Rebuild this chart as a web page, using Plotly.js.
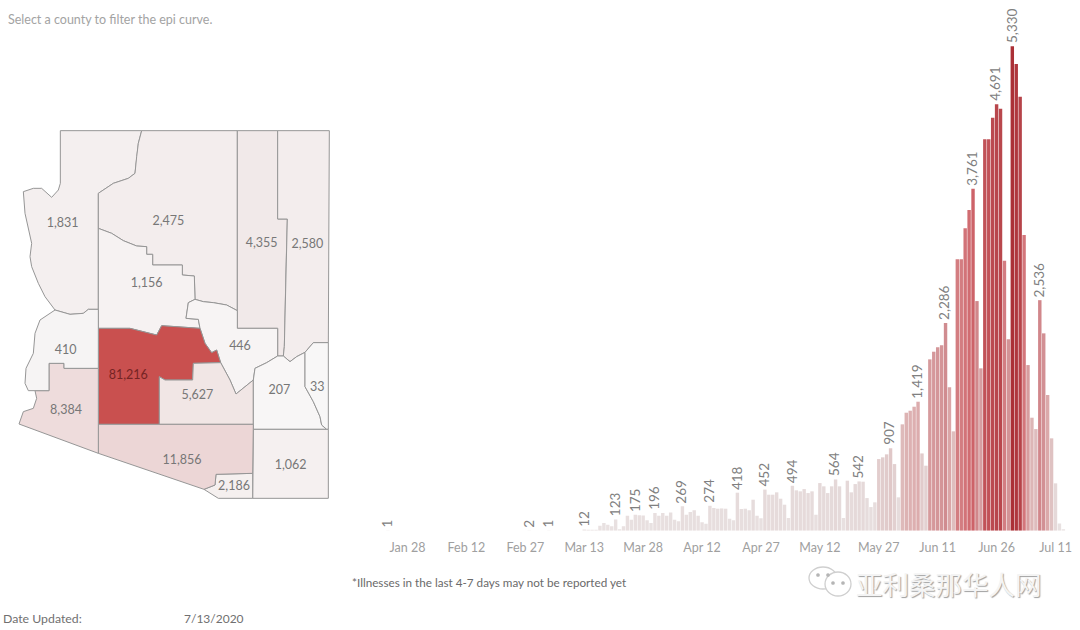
<!DOCTYPE html>
<html><head><meta charset="utf-8">
<script src="https://cdn.plot.ly/plotly-3.0.1.min.js"></script>
<style>html,body{margin:0;padding:0;background:#fff}#c{width:1080px;height:630px}</style>
</head><body><div id="c"></div>
<script>
// ---- epi curve data
const earlyDays = ['2020-01-23','2020-02-28','2020-03-04'];
const earlyCases = [1,2,1];
const seriesStart = '2020-03-13';
const dailyCases = [
 12,10,10,10,55,84,66,48,123,15,48,165,121,175,170,168,114,84,196,165,194,165,200,121,103,
 269,176,205,225,165,92,77,274,250,242,245,242,132,114,418,238,242,224,341,165,136,452,396,396,422,352,286,139,
 494,444,433,458,414,433,176,524,488,414,488,564,488,139,550,422,513,542,539,359,260,312,788,807,840,907,
 733,367,1170,1298,1320,1364,1419,850,715,1885,1969,2017,2039,2286,1577,1093,2985,2985,3326,3527,3761,2526,1786,
 4305,4305,4543,4691,4642,2970,2105,5330,5133,4774,3253,1822,1243,1118,2536,2171,1492,1016,521,80,15];
const labelledDays = ['2020-01-23','2020-02-28','2020-03-04','2020-03-13','2020-03-21','2020-03-26','2020-03-31','2020-04-07','2020-04-14','2020-04-21','2020-04-28','2020-05-05','2020-05-16','2020-05-22','2020-05-30','2020-06-06','2020-06-13','2020-06-20','2020-06-26','2020-06-30','2020-07-07'];
const tickDays = ['2020-01-28','2020-02-12','2020-02-27','2020-03-13','2020-03-28','2020-04-12','2020-04-27','2020-05-12','2020-05-27','2020-06-11','2020-06-26','2020-07-11'];
const tickNames = ['Jan 28','Feb 12','Feb 27','Mar 13','Mar 28','Apr 12','Apr 27','May 12','May 27','Jun 11','Jun 26','Jul 11'];

// ---- county map data (outlines, in map units)
const countyNames = ['Mohave','Coconino','Navajo','Apache','Yavapai','Gila','Maricopa','Pinal','Graham','Greenlee','Cochise','Santa Cruz','Pima','Yuma','La Paz'];
const countyCases = [1831,2475,4355,2580,1156,446,81216,5627,207,33,1062,2186,11856,8384,410];
const countyFill = ['#f4efef','#f3eded','#f1e9e9','#f3eded','#f6f2f2','#f7f4f4','#c9504f','#f1e6e5','#f8f6f6','#f8f7f7','#f5f0f0','#f5f0ef','#ecd6d6','#eedcdc','#f6f4f4'];
const countyLabelX = [188,505,785,922,440,720,385,592,838,952,872,702,546,198,197];
const countyLabelY = [312,307,372,374,492,680,769,827,814,804,1037,1102,1022,872,692];
const countyOutlines = [
 [[181,32],[425,32],[415,70],[410,110],[405,160],[385,175],[340,190],[295,220],[295,568],[265,568],[250,580],[210,583],[165,570],[135,530],[115,490],[95,440],[90,410],[95,370],[85,320],[75,280],[70,215],[100,205],[125,205],[155,232],[175,210],[181,190]],
 [[425,32],[712,32],[712,572],[680,555],[640,548],[610,545],[585,538],[583,468],[547,465],[547,435],[458,435],[458,403],[440,403],[440,380],[410,378],[370,362],[335,340],[295,325],[295,220],[340,190],[385,175],[405,160],[410,110],[415,70]],
 [[712,32],[833,32],[833,297],[862,297],[858,450],[853,680],[850,708],[833,708],[833,625],[712,625]],
 [[833,32],[988,32],[985,668],[940,668],[915,697],[890,710],[870,725],[850,708],[853,680],[858,450],[862,297],[833,297]],
 [[295,325],[335,340],[370,362],[410,378],[440,380],[440,403],[458,403],[458,435],[547,435],[547,465],[583,468],[585,538],[565,548],[558,595],[595,598],[600,625],[485,617],[470,645],[390,625],[295,625]],
 [[585,538],[610,545],[640,548],[680,555],[712,572],[712,625],[833,625],[833,708],[800,728],[765,745],[760,780],[708,822],[690,780],[662,728],[650,690],[635,698],[615,670],[600,625],[595,598],[558,595],[565,548]],
 [[295,625],[390,625],[470,645],[485,617],[600,625],[615,670],[635,698],[650,690],[662,728],[580,730],[578,780],[495,780],[478,770],[478,913],[295,913]],
 [[580,730],[662,728],[690,780],[708,822],[760,780],[760,913],[478,913],[478,770],[495,780],[578,780]],
 [[760,780],[765,745],[800,728],[833,708],[850,708],[870,725],[890,710],[915,697],[915,800],[940,845],[960,890],[965,915],[980,928],[760,928]],
 [[915,697],[940,668],[985,668],[985,928],[980,928],[965,915],[960,890],[940,845],[915,800]],
 [[760,928],[985,928],[985,1135],[758,1135]],
 [[648,1063],[758,1060],[758,1135],[655,1135],[612,1108],[645,1095]],
 [[295,913],[760,913],[758,1060],[648,1063],[645,1095],[612,1108],[295,1000]],
 [[147,730],[192,730],[192,745],[295,745],[295,1000],[57,912],[70,875],[100,865],[110,835],[105,812],[147,812]],
 [[165,570],[210,583],[250,580],[265,568],[295,568],[295,745],[192,745],[192,730],[147,730],[147,812],[85,812],[75,790],[78,745],[100,700],[105,640],[120,600]]
];

// ---- build
const F = 'Lato, "Open Sans", sans-serif';
const W = 1080, H = 630;
const dates = earlyDays.slice();
const start = Date.parse(seriesStart + 'T00:00:00Z');
dailyCases.forEach((_, i) => dates.push(new Date(start + i * 864e5).toISOString().slice(0, 10)));
const cases = earlyCases.concat(dailyCases);

const traces = [];
traces.push({
  type: 'bar', x: dates, y: cases,
  marker: {color: cases, cmin: 0, cmax: 5330, line: {width: 0},
    colorscale: [[0, '#e9e2e2'], [0.1, '#e5d9d9'], [0.17, '#e0c8c8'], [0.27, '#dcabac'], [0.43, '#d08c90'], [0.6, '#d4787d'], [0.72, '#cc6066'], [0.88, '#b8464c'], [1, '#ab3036']]},
  hoverinfo: 'skip', showlegend: false
});
countyOutlines.forEach((pts, i) => traces.push({
  type: 'scatter', mode: 'lines', xaxis: 'x2', yaxis: 'y2', name: countyNames[i],
  x: pts.map(p => p[0]).concat(pts[0][0]), y: pts.map(p => p[1]).concat(pts[0][1]),
  fill: 'toself', fillcolor: countyFill[i], line: {color: '#969696', width: 1},
  hoverinfo: 'skip', showlegend: false
}));
traces.push({
  type: 'scatter', mode: 'text', xaxis: 'x2', yaxis: 'y2', x: countyLabelX, y: countyLabelY,
  text: countyCases.map(v => v.toLocaleString('en-US')), textposition: 'middle center',
  textfont: {family: F, size: 12.5, color: countyCases.map(v => v > 50000 ? '#752424' : '#777777')},
  hoverinfo: 'skip', showlegend: false
});

const note = (x, y, text, size, color) => ({
  xref: 'paper', yref: 'paper', x: x / W, y: 1 - y / H, xanchor: 'left', yanchor: 'middle',
  showarrow: false, text, font: {family: F, size, color}
});
const px = x => x / W, py = y => 1 - y / H;
const ell = (cx, cy, rx, ry, fill) => ({
  type: 'circle', xref: 'paper', yref: 'paper', x0: px(cx - rx), x1: px(cx + rx), y0: py(cy - ry), y1: py(cy + ry),
  line: {color: fill ? '#b5b5b5' : '#cfcfcf', width: 1.3}, fillcolor: fill ? '#b5b5b5' : '#ffffff'
});
const barLabels = labelledDays.map(d => ({
  xref: 'x', yref: 'y', x: d, y: cases[dates.indexOf(d)], text: cases[dates.indexOf(d)].toLocaleString('en-US'),
  textangle: -90, showarrow: false, xanchor: 'center', yanchor: 'bottom', xshift: -1, yshift: 1,
  font: {family: F, size: 13.5, color: '#808080'}
}));

const layout = {
  width: W, height: H, margin: {l: 0, r: 0, t: 0, b: 0}, paper_bgcolor: '#fff', plot_bgcolor: 'rgba(0,0,0,0)',
  bargap: 0.13, showlegend: false,
  xaxis: {type: 'date', domain: [360 / W, 1072 / W], range: ['2020-01-15 21:36', '2020-07-15 04:48'],
    tickmode: 'array', tickvals: tickDays, ticktext: tickNames, showgrid: false, zeroline: false, showline: false,
    ticks: 'outside', ticklen: 5, tickcolor: 'rgba(0,0,0,0)', tickfont: {family: F, size: 12.5, color: '#a0a0a0'}},
  yaxis: {domain: [1 - 530.7 / H, 1], range: [0, 5838], visible: false, fixedrange: true},
  xaxis2: {domain: [0, 340 / W], range: [0, 1020], visible: false, anchor: 'y2'},
  yaxis2: {domain: [1 - 510 / H, 1 - 120 / H], range: [1170, 0], visible: false, anchor: 'x2'},
  shapes: [ell(823, 578, 14, 11), ell(838, 584, 13, 12), ell(818, 575, 1.2, 1.2, 1), ell(828, 575, 1.2, 1.2, 1), ell(833, 583, 1.2, 1.2, 1), ell(843, 583, 1.2, 1.2, 1)],
  annotations: barLabels.concat([
    note(6, 19, 'Select a county to filter the epi curve.', 12.5, '#a3a3a3'),
    note(350, 582, '*Illnesses in the last 4-7 days may not be reported yet', 11.7, '#6a6a6a'),
    note(1, 618, 'Date Updated:', 12.3, '#707070'),
    note(182, 618, '7/13/2020', 12, '#707070'),
    {xref: 'paper', yref: 'paper', x: 854 / W, y: py(583), xanchor: 'left', yanchor: 'middle', showarrow: false,
     text: '亚利桑那华人网', font: {family: '"Noto Sans CJK SC"', size: 26.5, color: '#f4f4f4', shadow: '1px 1px 1px #a0a0a0'}}
  ])
};
Plotly.newPlot('c', traces, layout, {staticPlot: true, displayModeBar: false});
</script></body></html>
